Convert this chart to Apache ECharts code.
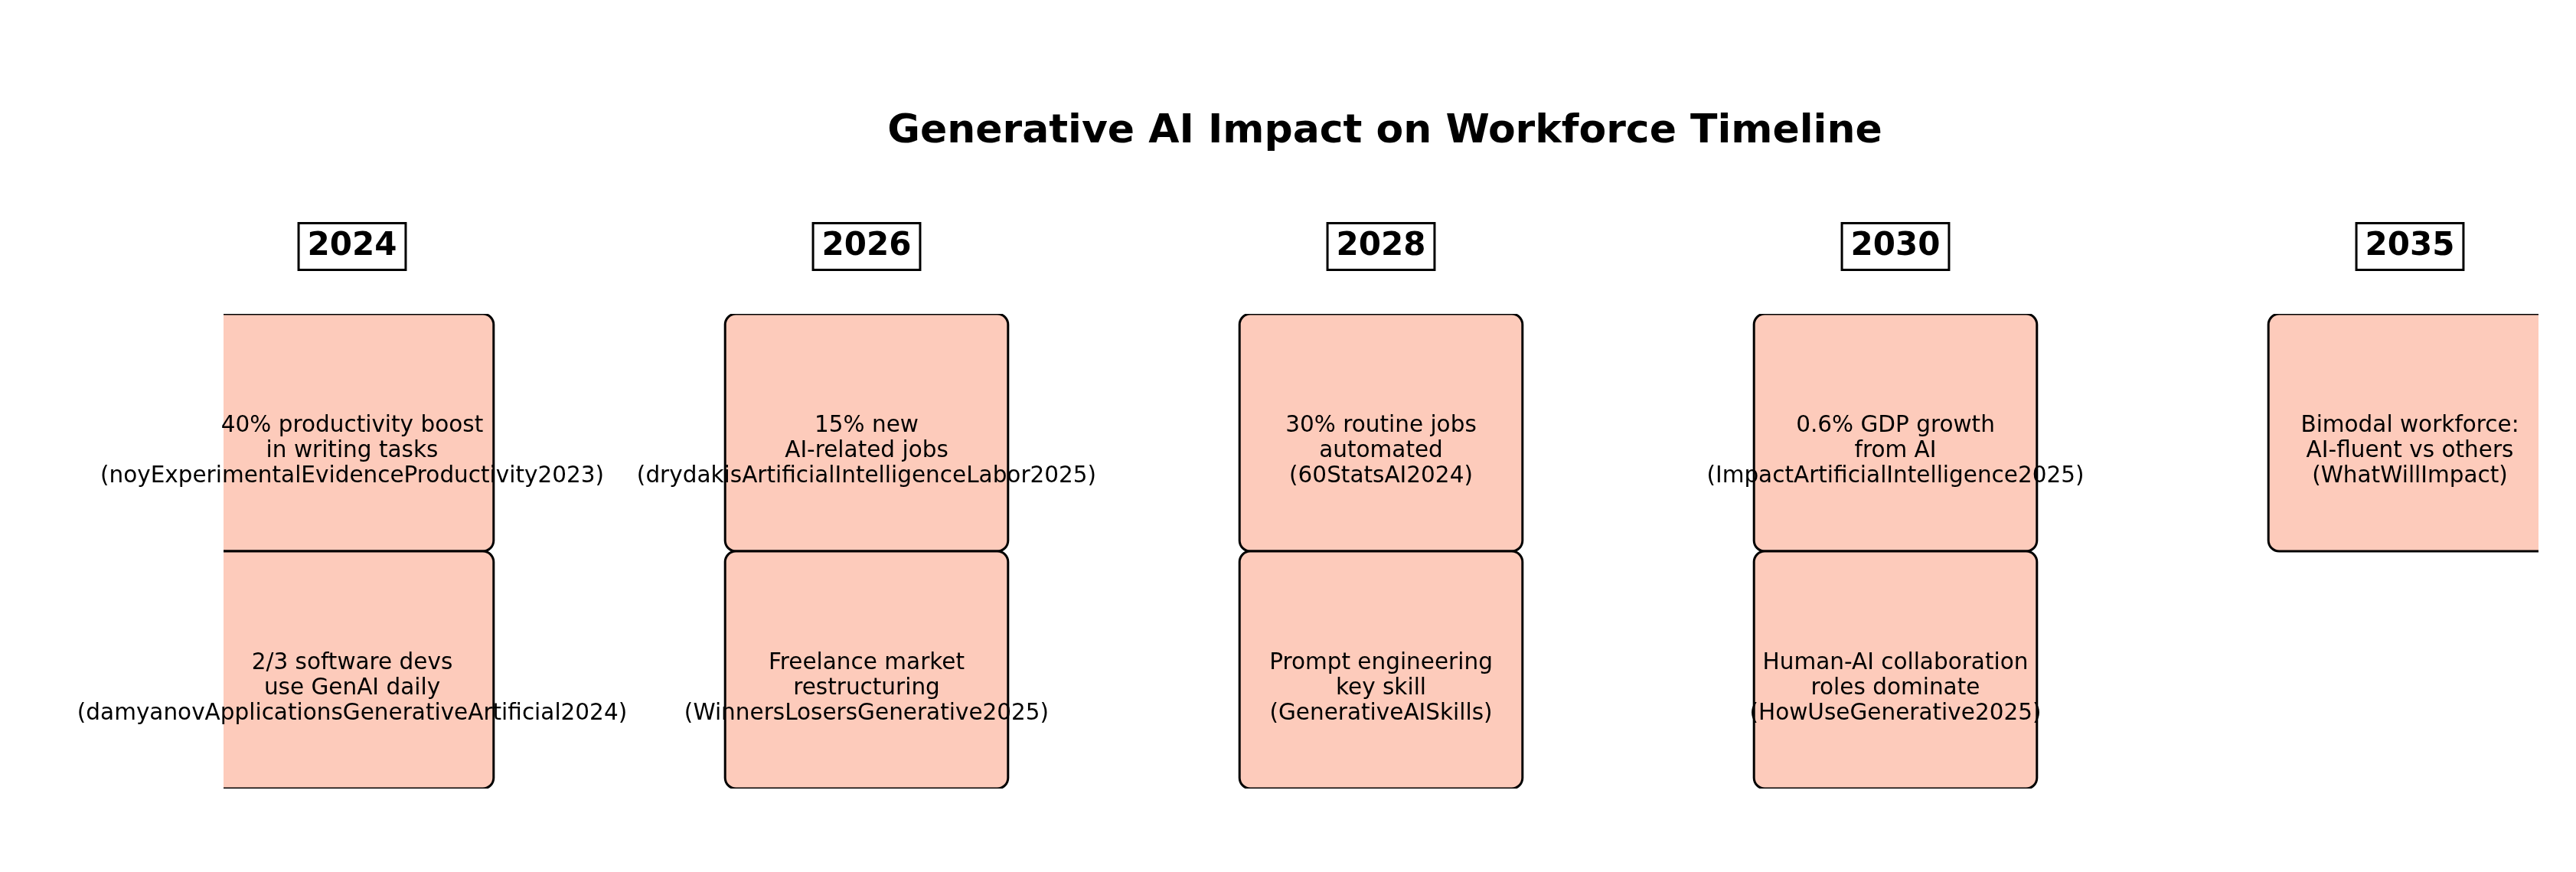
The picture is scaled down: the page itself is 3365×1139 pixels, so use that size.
<!DOCTYPE html>
<html>
<head>
<meta charset="utf-8">
<script src="https://cdn.jsdelivr.net/npm/echarts@6/dist/echarts.min.js"></script>
<style>html,body{margin:0;padding:0;background:#fff}#chart{width:3365px;height:1139px}</style>
</head>
<body>
<div id="chart"></div>
<script>
// timeline columns
var years = ['2024', '2026', '2028', '2030', '2035'];
// events: [column index, row index, text]
var events = [
    [0, 0, '40% productivity boost\nin writing tasks\n(noyExperimentalEvidenceProductivity2023)'],
    [0, 1, '2/3 software devs\nuse GenAI daily\n(damyanovApplicationsGenerativeArtificial2024)'],
    [1, 0, '15% new\nAI-related jobs\n(drydakisArtificialIntelligenceLabor2025)'],
    [1, 1, 'Freelance market\nrestructuring\n(WinnersLosersGenerative2025)'],
    [2, 0, '30% routine jobs\nautomated\n(60StatsAI2024)'],
    [2, 1, 'Prompt engineering\nkey skill\n(GenerativeAISkills)'],
    [3, 0, '0.6% GDP growth\nfrom AI\n(ImpactArtificialIntelligence2025)'],
    [3, 1, 'Human-AI collaboration\nroles dominate\n(HowUseGenerative2025)'],
    [4, 0, 'Bimodal workforce:\nAI-fluent vs others\n(WhatWillImpact)']
];

var chart = echarts.init(document.getElementById('chart'));
var boxW = 0.55;

chart.setOption({
    animation: false,
    title: {
        text: 'Generative AI Impact on Workforce Timeline',
        left: 1804, top: 167, textAlign: 'center', textVerticalAlign: 'middle',
        textStyle: {fontFamily: 'DejaVu Sans', fontSize: 52, fontWeight: 'bold', color: '#000'}
    },
    grid: {left: 292, width: 3024, top: 410, height: 620},
    xAxis: {type: 'value', min: -0.25, max: 4.25, show: false},
    yAxis: {type: 'value', min: 0, max: 2, inverse: true, show: false},
    series: [
        {
            type: 'custom',
            clip: true,
            data: events,
            renderItem: function (params, api) {
                var p0 = api.coord([api.value(0) - boxW / 2, api.value(1)]);
                var p1 = api.coord([api.value(0) + boxW / 2, api.value(1) + 1]);
                return {
                    type: 'rect',
                    shape: {x: p0[0], y: p0[1], width: p1[0] - p0[0], height: p1[1] - p0[1], r: 14},
                    style: {fill: '#fdcbbb', stroke: '#000', lineWidth: 3}
                };
            }
        },
        {
            type: 'custom',
            clip: false,
            data: events,
            z: 3,
            renderItem: function (params, api) {
                var p = api.coord([api.value(0), api.value(1) + 0.5]);
                return {
                    type: 'text',
                    x: p[0], y: p[1] + 24,
                    style: {
                        text: events[params.dataIndex][2],
                        fontFamily: 'DejaVu Sans', fontSize: 29.5, lineHeight: 33,
                        fill: '#000', align: 'center', verticalAlign: 'middle'
                    }
                };
            }
        },
        {
            type: 'custom',
            clip: false,
            data: years.map(function (y, i) { return [i, 0, y]; }),
            renderItem: function (params, api) {
                var p = api.coord([api.value(0), 0]);
                return {
                    type: 'text',
                    x: p[0], y: p[1] - 88,
                    style: {
                        text: years[params.dataIndex],
                        fontFamily: 'DejaVu Sans', fontSize: 42, fontWeight: 'bold',
                        fill: '#000', align: 'center', verticalAlign: 'middle',
                        backgroundColor: '#fff', borderColor: '#000', borderWidth: 3,
                        padding: [10, 10, 6, 10]
                    }
                };
            }
        }
    ]
});
</script>
</body>
</html>
